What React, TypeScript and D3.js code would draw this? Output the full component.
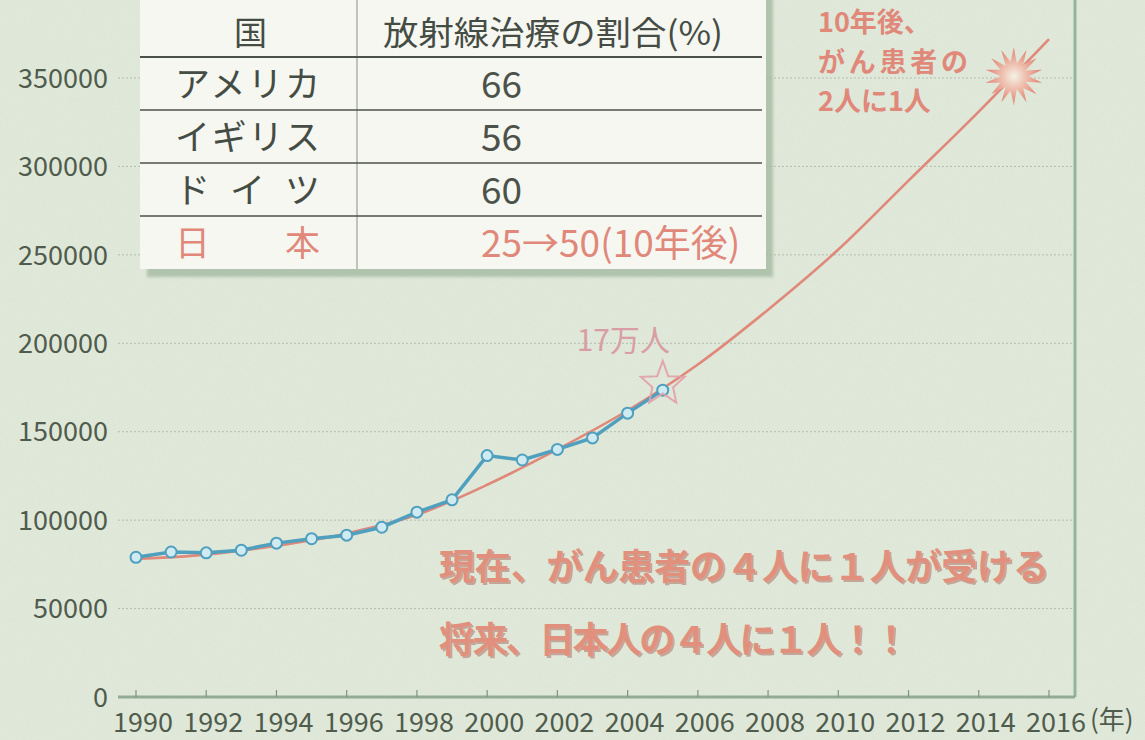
import React from 'react';
import * as d3 from 'd3';

// 放射線治療を受けるがん患者数（人）
const years = [1990, 1991, 1992, 1993, 1994, 1995, 1996, 1997, 1998, 1999, 2000, 2001, 2002, 2003, 2004, 2005];
const patients = [79000, 82000, 81500, 83000, 87000, 89500, 91500, 96000, 104500, 111500, 136500, 134000, 140000, 146500, 160500, 173500];

// 予測トレンド
const trendYears = [1990, 1992, 1994, 1996, 1998, 2000, 2002, 2004, 2006, 2008, 2010, 2012, 2014, 2016];
const trendValues = [78000, 80500, 85500, 92500, 103000, 120000, 140000, 162000, 188000, 219000, 253000, 292000, 331000, 372000];

const yTicks = [0, 50000, 100000, 150000, 200000, 250000, 300000, 350000];
const xTicks = [1990, 1992, 1994, 1996, 1998, 2000, 2002, 2004, 2006, 2008, 2010, 2012, 2014, 2016];

// 表
const tableHeader = ['国', '放射線治療の割合(%)'];
const countries = ['アメリカ', 'イギリス', 'ドイツ', '日本'];
const ratios = ['66', '56', '60', '25→50(10年後)'];

// 注記
const nowMark = { year: 2005, value: 177000, label: '17万人' };
const futureMark = { year: 2015, value: 351000 };
const futureLines = ['10年後、', 'がん患者の', '2人に1人'];
const messageLines = ['現在、がん患者の４人に１人が受ける', '将来、日本人の４人に１人！！'];
const messageWidths = [610, 470];

const W = 1145;
const H = 740;
const FONT = '"Noto Sans CJK JP", "Noto Sans", sans-serif';
const DARK = '#454c44';
const SALMON = '#e0887a';

function starPath(cx: number, cy: number, n: number, R: number, r: number) {
  const pts: [number, number][] = [];
  for (let i = 0; i < n * 2; i++) {
    const a = (Math.PI * i) / n - Math.PI / 2;
    const rr = i % 2 === 0 ? R : r * (i % 4 === 1 ? 1 : 1.15);
    pts.push([cx + Math.cos(a) * rr, cy + Math.sin(a) * rr]);
  }
  return 'M' + pts.map(p => p.join(',')).join('L') + 'Z';
}

export default function App() {
  const x = d3.scaleLinear().domain([1990, 2016]).range([136, 1049]);
  const y = d3.scaleLinear().domain([0, 350000]).range([697, 78]);

  const trendLine = d3.line<number>()
    .x((_, i) => x(trendYears[i]))
    .y(d => y(d))
    .curve(d3.curveMonotoneX);

  const actualLine = d3.line<number>()
    .x((_, i) => x(years[i]))
    .y(d => y(d));

  const plotLeft = 118;
  const plotRight = 1075;

  // table geometry
  const tx0 = 140, tx1 = 766, tDiv = 357;
  const rowLines = [57, 110, 163, 216, 269];

  const fx = x(futureMark.year);
  const fy = y(futureMark.value);
  const nx = x(nowMark.year);
  const ny = y(nowMark.value);

  return (
    <svg width={W} height={H} style={{ position: 'absolute', left: 0, top: 0, display: 'block' }} fontFamily={FONT}>
      <defs>
        <filter id="paper" x="0" y="0" width="100%" height="100%">
          <feTurbulence type="fractalNoise" baseFrequency="0.8" numOctaves="2" seed="3" />
          <feColorMatrix type="matrix" values="0 0 0 0 0.45  0 0 0 0 0.55  0 0 0 0 0.45  0 0 0 0.18 0" />
        </filter>
        <filter id="blur2"><feGaussianBlur stdDeviation="1.5" /></filter>
        <radialGradient id="burst">
          <stop offset="0%" stopColor="#f4f2e6" />
          <stop offset="35%" stopColor="#f0c8b8" />
          <stop offset="100%" stopColor="#e27f6e" />
        </radialGradient>
      </defs>

      <rect width={W} height={H} fill="#e3ebdc" />
      <rect width={W} height={H} filter="url(#paper)" />

      {/* grid */}
      {yTicks.slice(1).map(t => (
        <line key={t} x1={plotLeft} x2={plotRight} y1={y(t)} y2={y(t)}
          stroke="#a9b3a6" strokeWidth={1} strokeDasharray="2,2" opacity={0.8} />
      ))}

      {/* right border */}
      <line x1={plotRight} x2={plotRight} y1={0} y2={697} stroke="#93b59f" strokeWidth={3} />

      {/* y labels */}
      {yTicks.map(t => (
        <text key={t} x={108} y={y(t)} dy="0.36em" textAnchor="end" fontSize={27} fill="#4f5c4d">{t}</text>
      ))}

      {/* x axis */}
      <line x1={plotLeft} x2={plotRight} y1={697} y2={697} stroke="#93ab94" strokeWidth={3} />
      {xTicks.map(t => (
        <line key={'t' + t} x1={x(t)} x2={x(t)} y1={697} y2={690} stroke="#7d957e" strokeWidth={1.2} />
      ))}
      {xTicks.map(t => (
        <text key={t} x={x(t) + 7} y={732} textAnchor="middle" fontSize={27} fill="#4f5c4d">{t}</text>
      ))}
      <text x={1090} y={729} fontSize={26} fill="#4f5c4d">(年)</text>

      {/* table */}
      <rect x={tx0 + 7} y={-5} width={tx1 - tx0} height={rowLines[4] + 13} fill="#a4bba3" opacity={0.8} filter="url(#blur2)" />
      <rect x={tx0} y={-5} width={tx1 - tx0} height={rowLines[4] + 5} fill="#f6f7f1" />
      <line x1={tDiv} x2={tDiv} y1={-5} y2={rowLines[4]} stroke="#aab3a7" strokeWidth={1.5} />
      {rowLines.slice(0, 4).map((ly, i) => (
        <line key={ly} x1={tx0} x2={tx1 - 4} y1={ly} y2={ly} stroke="#4c524a" strokeWidth={i === 0 ? 2 : 1.3} />
      ))}
      <text x={(tx0 + tDiv) / 2 + 2} y={45} textAnchor="middle" fontSize={33} fill={DARK}>{tableHeader[0]}</text>
      <text x={383} y={45} fontSize={33} fill={DARK} textLength={340} lengthAdjust="spacingAndGlyphs">{tableHeader[1]}</text>
      {countries.map((c, i) => (
        <text key={c} x={175} y={rowLines[i] + 40} fontSize={35}
          fill={i === 3 ? SALMON : DARK} textLength={145} lengthAdjust="spacing">{c}</text>
      ))}
      {ratios.map((r, i) => (
        <text key={r} x={481} y={rowLines[i] + 41} fontSize={37}
          fill={i === 3 ? SALMON : '#4c524a'}>{r}</text>
      ))}

      {/* trend curve */}
      <path d={trendLine(trendValues) || ''} fill="none" stroke={SALMON} strokeWidth={2.6} />

      {/* actual data */}
      <path d={actualLine(patients) || ''} fill="none" stroke="#4f9fbf" strokeWidth={3.5} />
      {patients.map((v, i) => (
        <circle key={years[i]} cx={x(years[i])} cy={y(v)} r={5.5} fill="#cfeaf0" stroke="#4f9fbf" strokeWidth={2} />
      ))}

      {/* 17万人 */}
      <path d={starPath(nx, ny, 5, 23, 9.5)} fill="none" stroke="#e2a0a8" strokeWidth={2} opacity={0.9} />
      <text x={nx - 86} y={ny - 33} fontSize={30} fill="#d99ea3">{nowMark.label}</text>

      {/* 10年後 */}
      <path d={starPath(fx, fy, 14, 29, 13)} fill="url(#burst)" />
      {futureLines.map((l, i) => (
        <text key={l} x={818} y={32 + i * 39.5} fontSize={27} fontWeight="bold" fill={SALMON}
          textLength={i === 1 ? 150 : undefined} lengthAdjust="spacing">{l}</text>
      ))}

      {/* messages */}
      {messageLines.map((l, i) => (
        <g key={l}>
          <text x={441} y={582 + i * 73} fontSize={36} fontWeight="bold" fill="#a8685c" opacity={0.5}
            textLength={messageWidths[i]} lengthAdjust="spacing">{l}</text>
          <text x={439} y={580 + i * 73} fontSize={36} fontWeight="bold" fill="#e2907e"
            textLength={messageWidths[i]} lengthAdjust="spacing">{l}</text>
        </g>
      ))}
    </svg>
  );
}
